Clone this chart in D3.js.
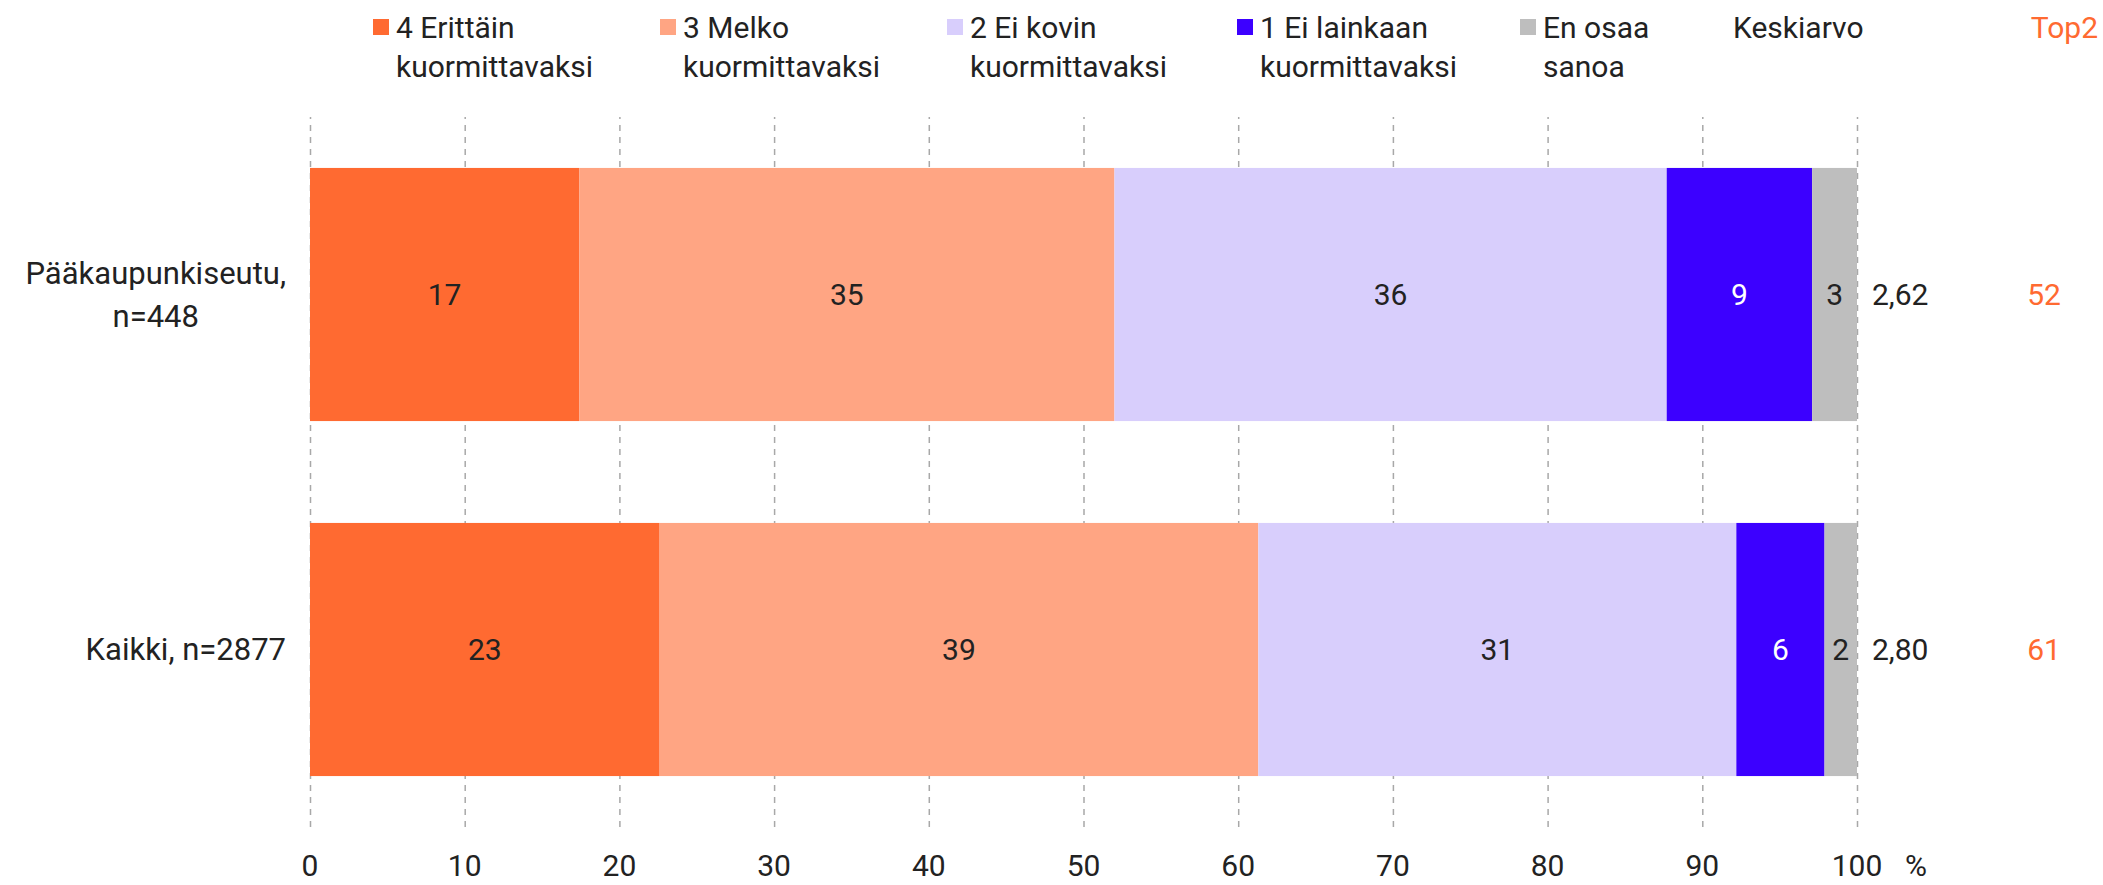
<!DOCTYPE html>
<meta charset="utf-8">
<style>
body { margin: 0; background: #fff; }
svg text { font-family: Roboto, "Noto Sans", sans-serif; fill: #222; }
.grid line { stroke: #a8a8a8; stroke-width: 1.5; stroke-dasharray: 6 6; }
.grid path { display: none; }
</style>
<svg width="2103" height="885"></svg>
<script src="https://cdn.jsdelivr.net/npm/d3@7/dist/d3.min.js"></script>
<script>

// data
var categories = [["Pääkaupunkiseutu,", "n=448"], ["Kaikki, n=2877"]];
var seriesNames = [["4 Erittäin", "kuormittavaksi"], ["3 Melko", "kuormittavaksi"], ["2 Ei kovin", "kuormittavaksi"], ["1 Ei lainkaan", "kuormittavaksi"], ["En osaa", "sanoa"]];
var seriesColors = ["#ff6a31", "#ffa583", "#d8cefc", "#3c00ff", "#bebebe"];
var values = [
  [17.4, 34.6, 35.7, 9.4, 2.9],
  [22.6, 38.7, 30.9, 5.7, 2.1]
];
var labels = [
  [17, 35, 36, 9, 3],
  [23, 39, 31, 6, 2]
];
var means = ["2,62", "2,80"];
var top2 = [52, 61];
var ticks = [0, 10, 20, 30, 40, 50, 60, 70, 80, 90, 100];

var svg = d3.select("svg"),
    width = +svg.attr("width"),
    height = +svg.attr("height");

var x = d3.scaleLinear().domain([0, 100]).range([310, 1857]);
var y = d3.scaleBand().domain(d3.range(categories.length)).range([117, 827])
    .paddingInner(0.287).paddingOuter(0.1435);

// dashed grid
svg.append("g")
    .attr("class", "grid")
    .attr("transform", "translate(0,827)")
    .call(d3.axisBottom(x).tickValues(ticks).tickSize(-(827 - 117)).tickFormat(""));

// tick labels
svg.append("g").selectAll("text")
    .data(ticks)
    .enter().append("text")
    .attr("x", function(d) { return x(d); })
    .attr("y", 876)
    .attr("text-anchor", "middle")
    .style("font-size", "30px")
    .text(function(d) { return d; });

svg.append("text")
    .attr("x", x(100) + 48)
    .attr("y", 876)
    .attr("text-anchor", "start")
    .style("font-size", "30px")
    .text("%");

// stacked bars
var rows = svg.append("g").selectAll("g")
    .data(values)
    .enter().append("g");

rows.each(function(row, i) {
  var g = d3.select(this);
  var cum = 0;
  row.forEach(function(v, j) {
    var x0 = cum;
    cum += v;
    g.append("rect")
      .attr("x", x(x0))
      .attr("y", y(i))
      .attr("width", x(cum) - x(x0))
      .attr("height", y.bandwidth())
      .attr("fill", seriesColors[j]);
    g.append("text")
      .attr("x", (x(x0) + x(cum)) / 2)
      .attr("y", y(i) + y.bandwidth() / 2)
      .attr("dy", "0.35em")
      .attr("text-anchor", "middle")
      .style("font-size", "30px")
      .style("fill", j === 3 ? "#fff" : "#222")
      .text(labels[i][j]);
  });
});

// category labels, block right-aligned, lines centred
categories.forEach(function(lines, i) {
  var cy = y(i) + y.bandwidth() / 2;
  var lh = 43;
  var t = svg.append("text")
      .attr("text-anchor", "middle")
      .style("font-size", "31px");
  var spans = [];
  lines.forEach(function(s, k) {
    spans.push(t.append("tspan")
      .attr("y", cy + (k - (lines.length - 1) / 2) * lh)
      .attr("dy", "0.35em")
      .text(s));
  });
  var w = d3.max(spans, function(sp) { return sp.node().getComputedTextLength(); });
  spans.forEach(function(sp) { sp.attr("x", 286 - w / 2); });
});

// means and top2
svg.append("g").selectAll("text")
    .data(means)
    .enter().append("text")
    .attr("x", 1872)
    .attr("y", function(d, i) { return y(i) + y.bandwidth() / 2; })
    .attr("dy", "0.35em")
    .style("font-size", "30px")
    .text(function(d) { return d; });

svg.append("g").selectAll("text")
    .data(top2)
    .enter().append("text")
    .attr("x", 2044)
    .attr("y", function(d, i) { return y(i) + y.bandwidth() / 2; })
    .attr("dy", "0.35em")
    .attr("text-anchor", "middle")
    .style("font-size", "30px")
    .style("fill", "#ff6a31")
    .text(function(d) { return d; });

// legend
var legendX = [373, 660, 947, 1237, 1520];
var legend = svg.append("g").selectAll("g")
    .data(seriesNames)
    .enter().append("g")
    .attr("transform", function(d, i) { return "translate(" + legendX[i] + ",0)"; });

legend.append("rect")
    .attr("x", 0).attr("y", 19)
    .attr("width", 16).attr("height", 16)
    .attr("fill", function(d, i) { return seriesColors[i]; });

legend.append("text")
    .style("font-size", "30px")
    .selectAll("tspan")
    .data(function(d) { return d; })
    .enter().append("tspan")
    .attr("x", 23)
    .attr("y", function(d, k) { return 27 + k * 39; })
    .attr("dy", "0.35em")
    .text(function(d) { return d; });

svg.append("text")
    .attr("x", 1733).attr("y", 27).attr("dy", "0.35em")
    .style("font-size", "30px")
    .text("Keskiarvo");

svg.append("text")
    .attr("x", 2098).attr("y", 27).attr("dy", "0.35em")
    .attr("text-anchor", "end")
    .style("font-size", "30px")
    .style("fill", "#ff6a31")
    .text("Top2");

</script>
